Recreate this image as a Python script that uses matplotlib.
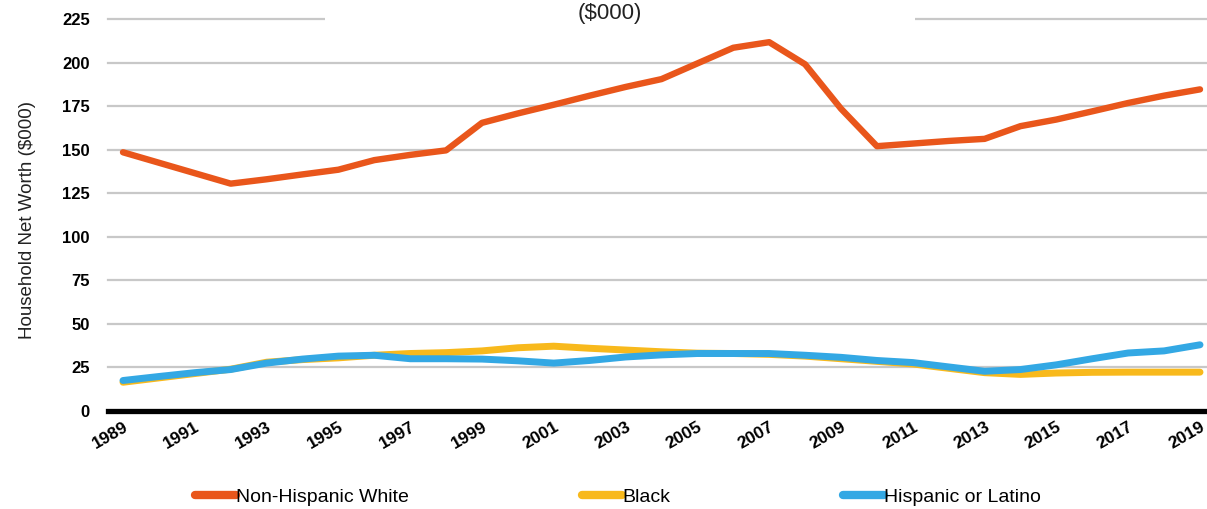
import numpy as np
import matplotlib
matplotlib.use("Agg")
import matplotlib.pyplot as plt
from matplotlib.patches import Rectangle
from matplotlib.lines import Line2D

plt.rcParams["font.family"] = ["Liberation Sans", "DejaVu Sans"]

years = list(range(1989, 2020))
white = [148.5, 142.5, 136.5, 130.5, 133, 135.8, 138.5, 144, 147, 149.6,
         165.4, 170.8, 175.8, 181, 186, 190.5, 199.5, 208.5, 211.7, 199,
         173.5, 152, 153.5, 155, 156.2, 163.5, 167.3, 172, 176.8, 181, 184.6]
black = [16.5, 19, 21.5, 24, 28, 29.5, 30.5, 32, 33, 33.5,
         34.5, 36.3, 37.2, 36, 35, 34, 33.2, 33, 32.5, 31.5,
         30, 28.5, 27, 24.5, 22, 21, 21.8, 22.2, 22.3, 22.3, 22.3]
hispanic = [17.5, 19.8, 22, 23.8, 27.5, 29.8, 31.5, 32, 30, 30,
            29.8, 28.8, 27.5, 29, 31, 32.2, 33, 33, 33, 32,
            30.8, 29, 27.8, 25.3, 22.8, 23.8, 26.5, 30, 33.3, 34.5, 38]
series_names = ["Non-Hispanic White", "Black", "Hispanic or Latino"]
series_colors = ["#E9561B", "#F8B91C", "#33A8E4"]
yticks = [0, 25, 50, 75, 100, 125, 150, 175, 200, 225]
xtick_years = list(range(1989, 2020, 2))

fig = plt.figure(figsize=(12.07, 5.09), dpi=100)
ax = fig.add_axes([108 / 1207, 98 / 509, 1 - 108 / 1207, (411 - 19) / 509])

ax.set_xlim(1989 - 15 / 35.9, 2019 + 7 / 35.9)
ax.set_ylim(0, 225)

for yv in yticks[1:]:
    ax.axhline(yv, color="#c8c8c8", lw=1.6, zorder=1, clip_on=False)
ax.axhline(0, color="black", lw=3.8, zorder=4, clip_on=False)

for vals, color, lw in zip([white, black, hispanic], series_colors, [4.6, 5.0, 5.0]):
    ax.plot(years, vals, color=color, lw=lw, solid_capstyle="round",
            solid_joinstyle="round", zorder=3)

for s in ax.spines.values():
    s.set_visible(False)

ax.set_yticks(yticks)
ax.set_yticklabels([str(v) for v in yticks], fontsize=12, fontweight="bold")
ax.set_xticks(xtick_years)
ax.set_xticklabels([str(y) for y in xtick_years], fontsize=12.5, fontweight="bold",
                   rotation=30, ha="right", va="top", rotation_mode="anchor")
ax.tick_params(axis="both", length=0)
ax.tick_params(axis="y", pad=13)
ax.tick_params(axis="x", pad=6)

fig.text(28 / 1207, 1 - 220 / 509, "Household Net Worth ($000)", rotation=90,
         ha="center", va="center", fontsize=13.5, color="#222222")

# white title box sitting over the top gridline
fig.patches.append(Rectangle((325 / 1207, 1 - 30 / 509), 590 / 1207, 30 / 509,
                             transform=fig.transFigure, facecolor="white",
                             edgecolor="none", zorder=5))
fig.text(610 / 1207, 1 - 14 / 509, "($000)", ha="center", va="center",
         fontsize=16, color="#222222", zorder=6)

handles = [Line2D([], [], color=c, lw=6, solid_capstyle="round")
           for c in series_colors]
fig.legend(handles, series_names, loc="center", bbox_to_anchor=(618 / 1207, 1 - 497 / 509),
           ncol=3, frameon=False, fontsize=14, handlelength=2.1,
           handletextpad=0.0, columnspacing=8.9)

fig.savefig("out.png", dpi=100, facecolor="white")
